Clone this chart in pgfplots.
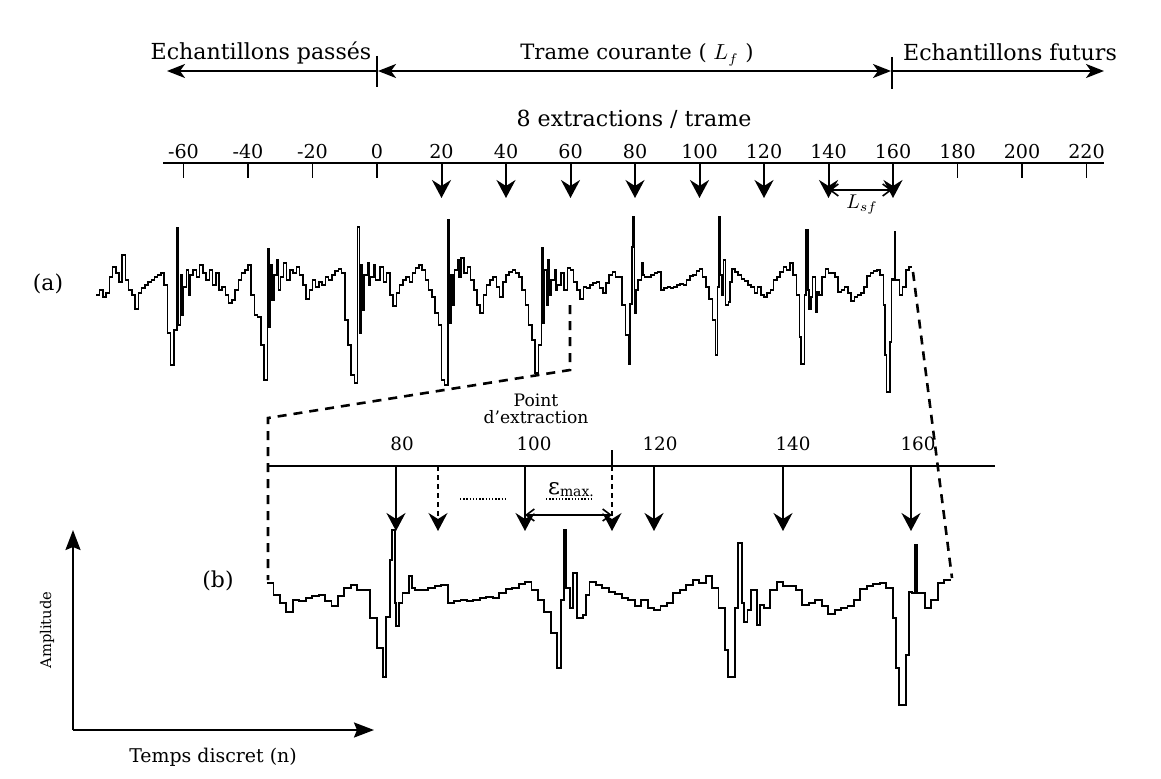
\documentclass[border=0pt]{standalone}
\usepackage{fontspec}
\setmainfont{DejaVu Serif}
\usepackage{pgfplots}
\pgfplotsset{compat=1.18}
\usepackage{pgfplotstable}
\usetikzlibrary{arrows.meta}

% Speech signal, one value per discrete time index n (offset below the baseline, in drawing units);
% fractional indices mark the narrow glottal pulses and their ringing
\pgfplotstableread{
n a
-87 10
-86 5
-85 12
-84 8
-83 -8
-82 -18
-81 -12
-80 -3
-79 -30
-78 -5
-77 5
-76 10
-75 24
-74 8
-73 3
-72 0
-71 -3
-70 -5
-69 -8
-68 -10
-67 -12
-66 0
-65 48
-64 80
-63 45
-62 -57
-61.5 40
-61 -10
-60.5 30
-60 2
-59 -15
-58.5 10
-58 -10
-57 -15
-56 -8
-55 -20
-54 -12
-53 -5
-52 -15
-51 0
-50 -12
-49 5
-48 2
-47 10
-46 18
-45 15
-44 5
-43 -5
-42 -12
-41 -15
-40 -20
-39 10
-38 30
-37 32
-36 60
-35 95
-34 -36
-33.5 42
-33 -20
-32.5 15
-32 -10
-31 -25
-30.5 5
-30 -8
-29 -22
-28 -5
-27 -15
-26 -12
-25 -18
-24 -10
-23 0
-22 14
-21 5
-20 -5
-19 2
-18 -3
-17 0
-16 -8
-15 -5
-14 -10
-13 -14
-12 -16
-11 -12
-10 35
-9 60
-8 90
-7 98
-6 -58
-5.5 48
-5 -20
-4.5 25
-4 -10
-3 -22
-2.5 0
-2 -8
-1 -20
-0.5 -5
0 -5
1 -18
2 -3
3 -12
4 10
5 21
6 8
7 0
8 -5
9 -8
10 -3
11 -12
12 -17
13 -20
14 -15
15 -5
16 5
17 12
18 28
19 40
20 95
21 100
22 -65
22.5 38
23 -10
23.5 20
24 -15
25 -25
25.5 -8
26 -27
27 -12
28 -18
29 -5
30 5
31 20
32 28
33 10
34 0
35 -5
36 -8
37 2
38 12
39 -3
40 -10
41 -13
42 -15
43 -12
44 -8
45 5
46 20
47 40
48 55
49 88
50 60
51 -37
51.5 38
52 -15
52.5 20
53 -25
53.5 10
54 -5
55 -15
55.5 5
56 0
57 -12
58 5
59 -17
60 -15
61 -3
62 5
63 14
64 2
65 3
66 0
67 -2
68 -3
69 3
70 8
71 -2
72 -10
73 -13
74 -8
75 -8
76 20
77 50
78 79
78.5 19
79 -38
79.4 -68
79.8 5
80 28
80.5 5
81 -5
82 -22
82.5 -10
83 -8
84 -8
85 -10
86 -12
87 -13
88 5
89 3
90 2
91 3
92 2
93 0
94 -1
95 0
96 -5
97 -9
98 -10
99 -14
100 -16
101 -8
102 2
103 14
104 35
105 70
105.6 2
106.1 -68
106.4 -10
107 10
107.5 -25
108 20
109 17
109.5 -3
110 -16
111 -13
112 -10
113 -6
114 -4
115 0
116 2
117 8
118 2
119 10
120 12
121 8
122 5
123 -5
124 -8
125 -13
126 -18
127 -15
128 -22
129 -10
130 10
131 52
131.5 79
132.6 10
133 -55
133.6 5
134 24
134.5 12
135 -8
136 27
136.5 7
137 10
138 -8
139 -16
140 -12
141 -12
142 -8
143 7
144 5
145 2
146 8
147 16
148 12
149 10
150 8
151 2
152 -9
153 -12
154 -14
155 -15
156 -10
157 20
157.5 70
158 107
159 57
159.5 -6
160 -5
160.5 -53
160.8 -5
161 -5
162 10
163 2
164 -15
165 -18
166 -18
}\signal

\newcommand{\fs}[1]{\fontsize{#1}{#1}\selectfont}

\tikzset{
  dn/.style={-{Stealth[length=9bp,width=9.5bp,inset=3bp]}, line width=1bp},
  hz/.style={line width=1.1bp},
  hhead/.style={-{Stealth[length=9bp,width=7bp,inset=2.5bp]}},
  barb/.style={{Straight Barb[length=4bp,width=6bp]}-{Straight Barb[length=4bp,width=6bp]}, line width=0.8bp},
  zoomdash/.style={line width=1.3bp, dash pattern=on 4.5bp off 3.5bp},
}

\begin{document}
\begin{tikzpicture}
\begin{axis}[
  width=580.5bp, height=389.5bp, scale only axis,
  xmin=0, xmax=1161, ymin=0, ymax=779, y dir=reverse,
  hide axis, clip=false,
]
\path (axis cs:0,0) rectangle (axis cs:1161,779);

% ---- frame segmentation (top) ----
\node[anchor=base, font=\fs{11.1}] at (axis cs:261,60) {Echantillons passés};
\node[anchor=base, font=\fs{10.6}] at (axis cs:637,60) {Trame courante ( $L_f$ )};
\node[anchor=base, font=\fs{11.1}] at (axis cs:1010,61) {Echantillons futurs};
\draw[hz, hhead] (axis cs:377,71) -- (axis cs:167,71);
\draw[hz, {Stealth[length=9bp,width=7bp,inset=2.5bp]}-{Stealth[length=9bp,width=7bp,inset=2.5bp]}] (axis cs:378,71) -- (axis cs:891,71);
\draw[hz, hhead] (axis cs:892,71) -- (axis cs:1104,71);
\draw[line width=0.9bp] (axis cs:377,56) -- (axis cs:377,87);
\draw[line width=0.9bp] (axis cs:892,57) -- (axis cs:892,89);

\node[anchor=base, font=\fs{11.1}] at (axis cs:634,126) {8 extractions / trame};

% time axis of the full signal
\draw[hz] (axis cs:163,163) -- (axis cs:1104,163);
\pgfplotsinvokeforeach{-60,-40,-20,0,20,40,60,80,100,120,140,160,180,200,220}{
  \node[anchor=base, font=\fs{9.6}] at (axis cs:{377+3.225*(#1)},158) {#1};
}
\pgfplotsinvokeforeach{-60,-40,-20,0,180,200,220}{
  \draw[line width=0.9bp] (axis cs:{377+3.225*(#1)},163) -- (axis cs:{377+3.225*(#1)},178);
}
\pgfplotsinvokeforeach{20,40,60,80,100,120,140,160}{
  \draw[dn] (axis cs:{377+3.225*(#1)},163) -- (axis cs:{377+3.225*(#1)},198);
}
\draw[barb] (axis cs:829,190) -- (axis cs:892,190);
\node[font=\fs{10}] at (axis cs:862,205) {$L_{sf}$};

% ---- (a) whole signal ----
\node[font=\fs{11}] at (axis cs:48,284) {(a)};
\addplot[const plot, line width=0.75bp, black]
  table[x expr=377+3.225*\thisrow{n}, y expr=285+\thisrow{a}] {\signal};

% zoom guides
\draw[zoomdash] (axis cs:570,305) -- (axis cs:570,370) -- (axis cs:268,418) -- (axis cs:268,580);
\draw[zoomdash] (axis cs:913,272) -- (axis cs:952,578);

\node[align=center, font=\fs{8.6}, inner sep=0pt] at (axis cs:536,409) {Point\\d’extraction};

% ---- (b) zoomed signal ----
\draw[hz] (axis cs:268,466) -- (axis cs:995,466);
\node[anchor=base, font=\fs{9.2}] at (axis cs:402,450) {80};
\node[anchor=base, font=\fs{9.2}] at (axis cs:534,450) {100};
\node[anchor=base, font=\fs{9.2}] at (axis cs:660,450) {120};
\node[anchor=base, font=\fs{9.2}] at (axis cs:793,450) {140};
\node[anchor=base, font=\fs{9.2}] at (axis cs:918,450) {160};
\foreach \xx in {396,525,654,783,911} {
  \edef\tmp{\noexpand\draw[dn] (axis cs:\xx,466) -- (axis cs:\xx,531);}\tmp
}
\draw[dn, line width=0.6bp, dash pattern=on 2.5bp off 2bp] (axis cs:438,466) -- (axis cs:438,531);
\draw[line width=0.8bp] (axis cs:612,450) -- (axis cs:612,466);
\draw[dn, line width=0.6bp, dash pattern=on 2.5bp off 2bp] (axis cs:612,466) -- (axis cs:612,531);
\draw[barb] (axis cs:525,515) -- (axis cs:612,515);
\draw[line width=0.7bp, dash pattern=on 0.7bp off 0.9bp] (axis cs:460,499) -- (axis cs:505,499);
\draw[line width=0.7bp, dash pattern=on 0.7bp off 0.9bp] (axis cs:546,499) -- (axis cs:591,499);
\node[anchor=base, font=\fs{11.5}, inner sep=0pt] at (axis cs:571,494) {ε\raisebox{-1.2bp}{\fs{7}max.}};

\node[font=\fs{11}] at (axis cs:218,581) {(b)};
\addplot[const plot, line width=0.95bp, black, restrict x to domain=266:1000]
  table[x expr=396+6.45*(\thisrow{n}-80), y expr=598+\thisrow{a}] {\signal};

% ---- amplitude / time reference axes ----
\draw[line width=1.1bp, -{Stealth[length=10bp,width=7.5bp,inset=1.5bp]}] (axis cs:73,730) -- (axis cs:73,530);
\draw[line width=1.1bp, -{Stealth[length=10bp,width=7.5bp,inset=1.5bp]}] (axis cs:73,730) -- (axis cs:374,730);
\node[rotate=90, font=\fs{7.4}] at (axis cs:47,630) {Amplitude};
\node[anchor=base, font=\fs{9.5}] at (axis cs:213,762) {Temps discret (n)};
\end{axis}
\end{tikzpicture}
\end{document}
